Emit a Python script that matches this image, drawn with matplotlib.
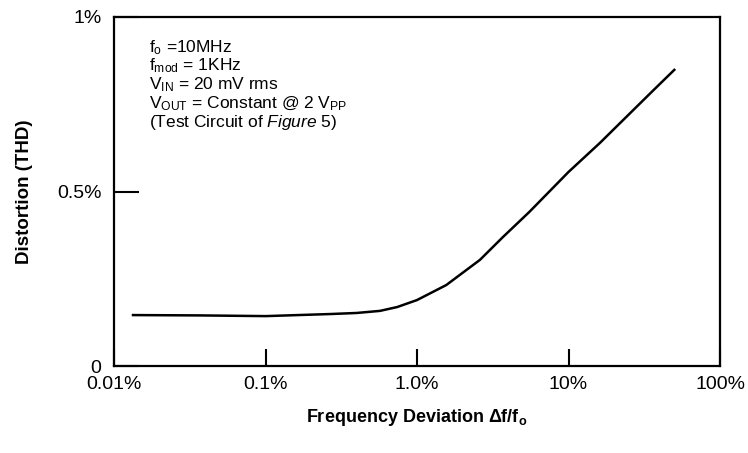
import matplotlib
matplotlib.use("Agg")
import matplotlib.pyplot as plt
import numpy as np

plt.rcParams['font.family'] = ['Liberation Sans', 'DejaVu Sans']
plt.rcParams['mathtext.fontset'] = 'custom'
plt.rcParams['mathtext.rm'] = 'Liberation Sans'
plt.rcParams['mathtext.it'] = 'Liberation Sans:italic'
plt.rcParams['mathtext.bf'] = 'Liberation Sans:bold'

# Data: frequency deviation (%) vs distortion THD (%)
deviation_pct = [0.0131, 0.037, 0.1, 0.27, 0.40, 0.57, 0.74, 1.0, 1.56, 2.6, 3.7, 5.5, 10.0, 16.1, 36.5, 50.6]
thd_pct = [0.146, 0.145, 0.143, 0.149, 0.152, 0.158, 0.169, 0.189, 0.232, 0.304, 0.370, 0.441, 0.556, 0.639, 0.791, 0.851]

xtick_vals = [0.01, 0.1, 1.0, 10, 100]
xtick_labels = ["0.01%", "0.1%", "1.0%", "10%", "100%"]
ytick_vals = [0, 0.5, 1.0]
ytick_labels = ["0", "0.5%", "1%"]

fig = plt.figure(figsize=(7.48, 4.53), dpi=100)
ax = fig.add_axes([0.1524, 0.192, 0.8102, 0.7705])

ax.plot(deviation_pct, thd_pct, color='black', lw=1.8, solid_capstyle='butt')
ax.set_xscale('log')
ax.set_xlim(0.01, 100)
ax.set_ylim(0, 1.0)

ax.set_xticks(xtick_vals)
ax.set_xticklabels(xtick_labels)
ax.minorticks_off()
ax.set_yticks(ytick_vals)
ax.set_yticklabels(ytick_labels)
ax.tick_params(axis='x', direction='in', length=12, width=1.5, pad=7, labelsize=14)
ax.tick_params(axis='y', direction='in', length=18, width=1.5, pad=9, labelsize=14)

for s in ax.spines.values():
    s.set_linewidth(1.6)

ax.set_ylabel("Distortion (THD)", fontsize=13.5, fontweight='bold', labelpad=17)
ax.set_xlabel(r"Frequency Deviation $\mathbf{\Delta f/f_o}$", fontsize=13, fontweight='bold', labelpad=10)

lines = [
    r"$\mathregular{f_o}$ =10MHz",
    r"$\mathregular{f_{mod}}$ = 1KHz",
    r"$\mathregular{V_{IN}}$ = 20 mV rms",
    r"$\mathregular{V_{OUT}}$ = Constant @ 2 $\mathregular{V_{PP}}$",
    r"(Test Circuit of $\mathit{Figure\ 5}$)",
]
y0 = 0.94
for i, t in enumerate(lines):
    ax.text(0.058, y0 - i * 0.054, t, transform=ax.transAxes, fontsize=12.5,
            va='top', ha='left')

fig.savefig("out.png", dpi=100)
